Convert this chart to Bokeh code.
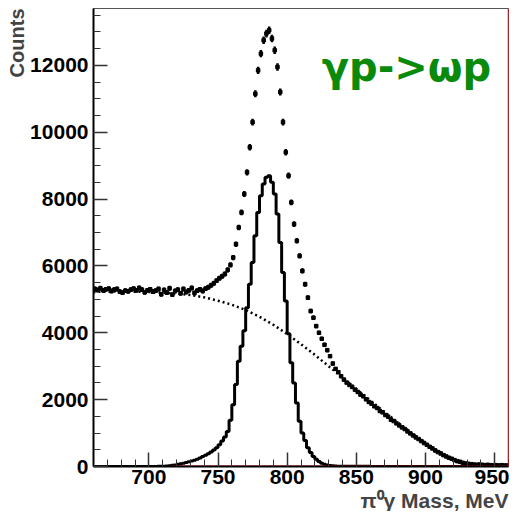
import numpy as np
from bokeh.plotting import figure
from bokeh.models import Range1d, FixedTicker, Span, Title, Label
from bokeh.embed import file_html
from bokeh.resources import INLINE

# ---- data ----
mass_lo, mass_hi, bin_w = 660, 960, 2
counts_max = 13700

data_counts = [
    5310, 5280, 5330, 5270, 5300, 5320, 5250, 5290, 5310, 5230,
    5200, 5260, 5240, 5290, 5320, 5270, 5340, 5290, 5210, 5270,
    5300, 5230, 5260, 5310, 5150, 5280, 5200, 5330, 5140, 5250,
    5290, 5180, 5310, 5220, 5270, 5340, 5190, 5260, 5300, 5250,
    5320, 5360, 5420, 5480, 5560, 5630, 5690, 5760, 5880, 6030,
    6250, 6650, 7150, 7600, 8150, 8800, 9550, 10300, 11150, 11850,
    12350, 12750, 12950, 13050, 12800, 12450, 11950, 11200, 10300, 9400,
    8700, 7900, 7250, 6750, 6300, 5850, 5450, 5050, 4650, 4450,
    4200, 4000, 3820, 3640, 3480, 3300, 3080, 2920, 2820, 2700,
    2600, 2510, 2440, 2380, 2300, 2230, 2150, 2100, 2010, 1930,
    1880, 1800, 1750, 1660, 1620, 1540, 1490, 1400, 1360, 1290,
    1230, 1170, 1120, 1050, 990, 930, 870, 820, 760, 700,
    650, 590, 540, 480, 430, 390, 340, 300, 260, 230,
    190, 160, 140, 110, 90, 80, 70, 60, 50, 60,
    50, 40, 50, 40, 30, 40, 30, 40, 30, 30,
]

signal_counts = [
    0, 0, 0, 0, 0, 0, 0, 0, 0, 0,
    0, 0, 0, 0, 0, 0, 0, 0, 0, 0,
    0, 0, 3, 5, 8, 10, 15, 25, 35, 45,
    70, 85, 100, 120, 140, 165, 190, 220, 255, 300,
    340, 380, 430, 490, 560, 650, 760, 880, 1050, 1380,
    1850, 2450, 3150, 3600, 4060, 4750, 5450, 6100, 6900, 7600,
    8100, 8450, 8650, 8700, 8500, 8150, 7550, 6700, 5800, 4950,
    3970, 3100, 2500, 1900, 1350, 1000, 780, 560, 420, 300,
    220, 150, 100, 70, 45, 30, 20, 15, 10, 10,
    5, 5, 5, 5, 5, 5, 5, 5, 5, 5,
    0, 0, 0, 0, 0, 0, 0, 0, 0, 0,
    0, 0, 0, 0, 0, 0, 0, 0, 0, 0,
    0, 0, 0, 0, 0, 0, 0, 0, 0, 0,
    0, 0, 0, 0, 0, 0, 0, 0, 0, 0,
    0, 0, 0, 0, 0, 0, 0, 0, 0, 0,
]

bg_mass = [660, 670, 680, 690, 700, 710, 720, 730, 740, 750, 760, 770, 780,
           790, 800, 810, 820, 830, 840, 850, 860, 870, 880, 890, 900, 910,
           920, 930, 940, 950, 960]
bg_counts = [5220, 5230, 5235, 5230, 5220, 5200, 5170, 5130, 5060, 4960, 4840,
             4680, 4480, 4240, 3960, 3660, 3340, 3000, 2660, 2320, 1980, 1640,
             1320, 1000, 700, 440, 220, 70, 10, 0, 0]

fit_range = [716, 960]
fit_level = [0, 0]

x_ticks = [700, 750, 800, 850, 900, 950]
x_minor = list(range(670, 961, 10))
y_ticks = [0, 2000, 4000, 6000, 8000, 10000, 12000]
y_minor = list(range(0, 13701, 500))

centers = np.arange(mass_lo + bin_w / 2, mass_hi, bin_w)
data = np.array(data_counts, dtype=float)
err = np.sqrt(data)

p = figure(width=509, height=511, output_backend="svg", toolbar_location=None,
           x_range=Range1d(mass_lo, mass_hi), y_range=Range1d(0, counts_max),
           min_border_left=93, min_border_right=1, min_border_top=8,
           min_border_bottom=42)
p.background_fill_color = "white"
p.border_fill_color = "white"
p.outline_line_color = "#555555"
p.outline_line_width = 1
p.xgrid.visible = False
p.ygrid.visible = False

for ax in (p.xaxis[0], p.yaxis[0]):
    ax.major_tick_in = 14
    ax.major_tick_out = 0
    ax.minor_tick_in = 7
    ax.minor_tick_out = 0
    ax.axis_line_width = 2
    ax.axis_line_color = "black"
    ax.major_tick_line_color = "#333333"
    ax.minor_tick_line_color = "#333333"
    ax.major_tick_line_width = 1.5
    ax.minor_tick_line_width = 1
    ax.major_label_text_font = "Liberation Sans"
    ax.major_label_text_font_style = "bold"
    ax.major_label_text_font_size = "21px"
    ax.major_label_text_color = "black"
    ax.major_label_text_line_height = 1.0

p.xaxis[0].ticker = FixedTicker(ticks=x_ticks, minor_ticks=x_minor)
p.yaxis[0].ticker = FixedTicker(ticks=y_ticks, minor_ticks=y_minor)
p.xaxis[0].major_label_standoff = 3
p.yaxis[0].major_label_standoff = 5

p.add_layout(Title(text="Counts", align="right", text_font="Liberation Sans",
                   text_font_style="bold", text_font_size="20px", standoff=0,
                   text_line_height=1.0), "left")
p.add_layout(Title(text="π⁰γ Mass, MeV", align="right", text_font="Liberation Sans",
                   text_font_style="bold", text_font_size="21px", standoff=0,
                   text_line_height=1.0), "below")

# background fit (dotted)
p.line(bg_mass, bg_counts, line_color="black", line_width=2.5, line_dash="2 3")

# signal histogram
p.step(centers, signal_counts, mode="center", line_color="black", line_width=3)

# data points with errors
p.segment(x0=centers, y0=data - err, x1=centers, y1=data + err,
          line_color="black", line_width=2.5)
p.scatter(centers, data, marker="square", size=3.5, color="black")

# red lines
p.line(fit_range, fit_level, line_color="#dd0000", line_width=2)
p.add_layout(Span(location=mass_hi, dimension="height", line_color="#dd0000", line_width=1.5))

p.add_layout(Label(x=825, y=11950, text="γp->ωp", text_color="#0a8a0a",
                   text_font="DejaVu Sans", text_font_style="bold",
                   text_font_size="40px", text_baseline="alphabetic"))

open("out.html", "w").write(file_html(p, INLINE))
